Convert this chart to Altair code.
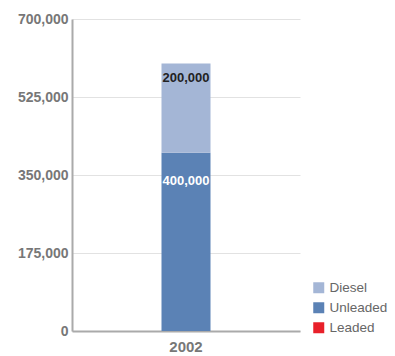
import altair as alt
import pandas as pd

# Fuel sales for a single year, stacked by fuel type
years = ["2002", "2002", "2002"]
fuels = ["Leaded", "Unleaded", "Diesel"]
volumes = [0, 400000, 200000]
stack_rank = [0, 1, 2]

legend_order = ["Diesel", "Unleaded", "Leaded"]
fuel_colors = ["#a4b6d6", "#5b82b5", "#e8202a"]
label_colors = ["#222222", "#ffffff", "#ffffff"]
y_ticks = [0, 175000, 350000, 525000, 700000]

df = pd.DataFrame({"year": years, "fuel": fuels, "volume": volumes, "rank": stack_rank})

FONT = "Liberation Sans"

y_axis = alt.Axis(
    values=y_ticks, format=",.0f",
    labelFont=FONT, labelFontSize=14, labelFontWeight="bold",
    labelColor="#777777", labelPadding=4, ticks=False,
    domainColor="#aaaaaa", domainWidth=2,
    gridColor="#e2e2e2", gridWidth=1,
)
x_axis = alt.Axis(
    labelAngle=0, labelFont=FONT, labelFontSize=15, labelFontWeight="bold",
    labelColor="#777777", labelPadding=8, ticks=False, domainColor="#aaaaaa",
    domainWidth=2, grid=False,
)
y_scale = alt.Scale(domain=[0, 700000], nice=False)

bars = alt.Chart(df).mark_bar(size=49).encode(
    x=alt.X("year:N", title=None, axis=x_axis),
    y=alt.Y("volume:Q", stack="zero", title=None, scale=y_scale, axis=y_axis),
    color=alt.Color(
        "fuel:N",
        scale=alt.Scale(domain=legend_order, range=fuel_colors),
        legend=alt.Legend(
            title=None, orient="none", legendX=240, legendY=262,
            symbolType="square", symbolSize=121, symbolStrokeWidth=0,
            labelFont=FONT, labelFontSize=13.5, labelColor="#666666",
            rowPadding=5, symbolOffset=0, labelOffset=4,
        ),
    ),
    order=alt.Order("rank:Q"),
)

labels = (
    alt.Chart(df)
    .transform_filter("datum.volume > 0")
    .transform_stack(stack="volume", groupby=["year"], sort=[alt.SortField("rank")], as_=["v0", "v1"])
    .transform_calculate(label_pos="datum.v1 - 0.16 * datum.volume")
    .mark_text(font=FONT, fontSize=13, fontWeight="bold", baseline="middle")
    .encode(
        x=alt.X("year:N", title=None, axis=x_axis),
        y=alt.Y("label_pos:Q", title=None, scale=y_scale, axis=y_axis),
        text=alt.Text("volume:Q", format=","),
        color=alt.Color("fuel:N", scale=alt.Scale(domain=legend_order, range=label_colors), legend=None),
    )
)

chart = (
    alt.layer(bars, labels)
    .resolve_scale(color="independent")
    .properties(
        width=228, height=312,
        background="#ffffff",
        autosize=alt.AutoSizeParams(type="none"),
        padding={"left": 72, "top": 19, "right": 95, "bottom": 25},
    )
    .configure_view(strokeWidth=0)
)

chart.save("out.html", embed_options={"renderer": "svg", "actions": False})
